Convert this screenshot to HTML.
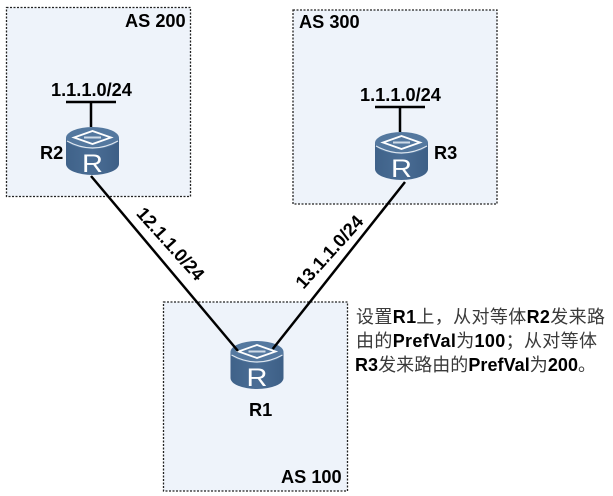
<!DOCTYPE html>
<html>
<head>
<meta charset="utf-8">
<style>
html,body{margin:0;padding:0;background:#fff;}
body{width:613px;height:496px;overflow:hidden;}
svg{display:block;filter:blur(0.3px);}
text{font-family:"Liberation Sans","Noto Sans CJK SC",sans-serif;fill:#000;}
.b{font-weight:bold;font-size:18.2px;}
.cn{font-size:18px;fill:#3a3a3a;}
.cn tspan.e{font-weight:bold;fill:#000;}
</style>
</head>
<body>
<svg width="613" height="496" viewBox="0 0 613 496" xmlns="http://www.w3.org/2000/svg">
<defs>
<linearGradient id="body" x1="0" x2="1" y1="0" y2="0">
<stop offset="0" stop-color="#3f6289"/>
<stop offset="0.5" stop-color="#4a6d95"/>
<stop offset="1" stop-color="#3d5f86"/>
</linearGradient>
<g id="router">
<path d="M0 11V37A26.5 11 0 0 0 53 37V11Z" fill="url(#body)"/>
<ellipse cx="26.5" cy="11" rx="26.5" ry="11" fill="#54789f"/>
<path d="M1 14Q26.500 28 52 14" fill="none" stroke="#dfe7f0" stroke-width="1.2"/>
<path d="M26.500 4L45 10.500L26.500 17L8 10.500Z" fill="#54789f" stroke="#fff" stroke-width="1.8"/>
<path d="M18 10.500H35" stroke="#cfdbe8" stroke-width="2"/>
<text transform="translate(16 45) scale(1.16 1)" font-size="25" style="fill:#fff">R</text>
</g>
</defs>

<g fill="#eef3fa" stroke="#222" stroke-width="1.300" stroke-dasharray="2 1.500">
<rect x="6.500" y="7.500" width="184" height="189"/>
<rect x="293" y="10" width="204" height="194"/>
<rect x="163.500" y="302" width="184" height="189"/>
</g>

<use href="#router" x="66" y="127"/>
<use href="#router" x="375" y="132"/>
<use href="#router" x="230.500" y="341"/>

<g stroke="#000" stroke-width="2.500" fill="none">
<path d="M91 176L238 351"/>
<path d="M405 182L272.700 349"/>
<path d="M66 102H116M91 102V127"/>
<path d="M375 107H425M400 107V132"/>
</g>

<text class="b" x="125" y="27">AS 200</text>
<text class="b" x="299" y="28">AS 300</text>
<text class="b" x="281" y="483">AS 100</text>
<text class="b" x="51" y="96">1.1.1.0/24</text>
<text class="b" x="360" y="101">1.1.1.0/24</text>
<text class="b" x="40" y="159">R2</text>
<text class="b" x="434" y="159">R3</text>
<text class="b" x="249" y="416">R1</text>

<text class="b" text-anchor="middle" transform="translate(166 248) rotate(48)">12.1.1.0/24</text>
<text class="b" text-anchor="middle" transform="translate(334 256) rotate(-48)">13.1.1.0/24</text>

<text class="cn" x="356" y="323" textLength="249" lengthAdjust="spacing">设置<tspan class="e">R1</tspan>上，从对等体<tspan class="e">R2</tspan>发来路</text>
<text class="cn" x="356" y="347" textLength="241" lengthAdjust="spacing">由的<tspan class="e">PrefVal</tspan>为<tspan class="e">100</tspan>；从对等体</text>
<text class="cn" x="355" y="371" textLength="241" lengthAdjust="spacing"><tspan class="e">R3</tspan>发来路由的<tspan class="e">PrefVal</tspan>为<tspan class="e">200</tspan>。</text>
</svg>
</body>
</html>
